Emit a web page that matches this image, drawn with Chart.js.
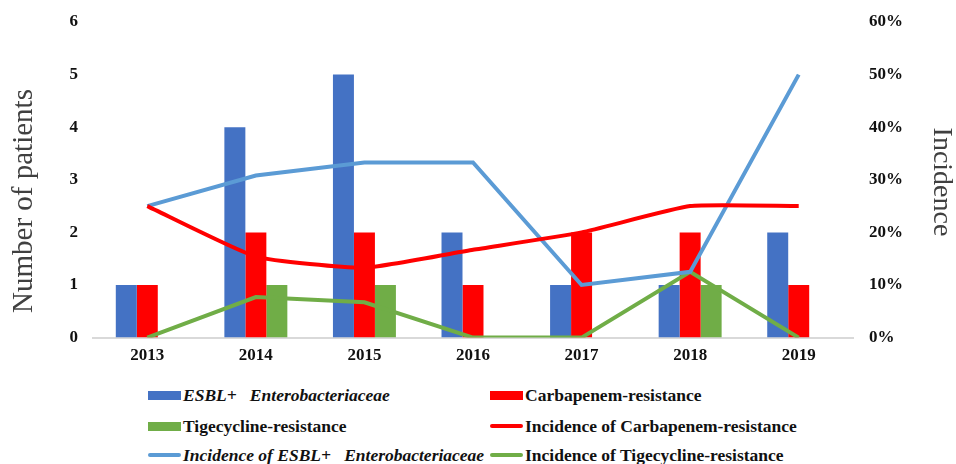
<!DOCTYPE html>
<html>
<head>
<meta charset="utf-8">
<script src="https://cdn.jsdelivr.net/npm/chart.js@4"></script>
<style>
  body { margin: 0; background: #fff; }
  #wrap { position: relative; width: 956px; height: 464px; }
  #chartBox { position: absolute; left: 0; top: 0; width: 956px; height: 366px; }
  #legend { position: absolute; left: 148px; top: 385px; font-family: "Liberation Serif", serif; font-weight: bold; font-size: 17.5px; color: #111; }
  .item { position: absolute; white-space: nowrap; display: flex; align-items: center; height: 20px; }
  .sw { display: inline-block; width: 33px; margin-right: 2px; }
</style>
</head>
<body>
<div id="wrap">
  <div id="chartBox"><canvas id="mixChart"></canvas></div>
  <div id="legend"></div>
</div>
<script>
const years = ["2013", "2014", "2015", "2016", "2017", "2018", "2019"];
// number of patients
const esblCount = [1, 4, 5, 2, 1, 1, 2];
const carbaCount = [1, 2, 2, 1, 2, 2, 1];
const tigeCount = [0, 1, 1, 0, 0, 1, 0];
// incidence (%)
const esblIncidence = [25, 30.8, 33.3, 33.3, 10, 12.5, 50];
const carbaIncidence = [25, 15.4, 13.3, 16.7, 20, 25, 25];
const tigeIncidence = [0, 7.7, 6.7, 0, 0, 12.5, 0];

const patientTicks = [0, 1, 2, 3, 4, 5, 6];
const incidenceTicks = [0, 10, 20, 30, 40, 50, 60];

const ctx = document.getElementById("mixChart").getContext("2d");
const serif = "Liberation Serif, serif";
const tickFont = { family: serif, size: 17, weight: "bold" };

// rotated axis titles placed like the original
const axisTitles = {
  id: "axisTitles",
  afterDraw(chart) {
    const c = chart.ctx;
    c.save();
    c.fillStyle = "#404040";
    c.textAlign = "center";
    c.textBaseline = "middle";
    c.font = "29px " + serif;
    c.translate(24, 201);
    c.rotate(-Math.PI / 2);
    c.fillText("Number of patients", 0, 0);
    c.restore();
    c.save();
    c.fillStyle = "#404040";
    c.textAlign = "center";
    c.textBaseline = "middle";
    c.font = "28px " + serif;
    c.translate(941, 182);
    c.rotate(Math.PI / 2);
    c.fillText("Incidence", 0, 0);
    c.restore();
  },
};

const mixChart = new Chart(ctx, {
  type: "bar",
  data: {
    labels: years,
    datasets: [
      { label: "ESBL+   Enterobacteriaceae", data: esblCount, backgroundColor: "#4472C4", yAxisID: "y", order: 1, italic: true },
      { label: "Carbapenem-resistance", data: carbaCount, backgroundColor: "#FF0000", yAxisID: "y", order: 1 },
      { label: "Tigecycline-resistance", data: tigeCount, backgroundColor: "#70AD47", yAxisID: "y", order: 1 },
      { type: "line", label: "Incidence of Carbapenem-resistance", data: carbaIncidence, borderColor: "#FF0000", borderWidth: 4, pointRadius: 0, yAxisID: "y1", order: 0, tension: 0.15 },
      { type: "line", label: "Incidence of ESBL+   Enterobacteriaceae", data: esblIncidence, borderColor: "#5B9BD5", borderWidth: 4, pointRadius: 0, yAxisID: "y1", order: 0, italic: true },
      { type: "line", label: "Incidence of Tigecycline-resistance", data: tigeIncidence, borderColor: "#70AD47", borderWidth: 4, pointRadius: 0, yAxisID: "y1", order: 0 },
    ],
  },
  options: {
    responsive: true,
    maintainAspectRatio: false,
    animation: false,
    layout: { padding: { top: 22, bottom: 0 } },
    datasets: {
      bar: { categoryPercentage: 0.58, barPercentage: 1.0 },
    },
    scales: {
      x: {
        grid: { display: false },
        border: { color: "#d9d9d9", width: 2 },
        ticks: { color: "#111", padding: 0, font: tickFont },
      },
      y: {
        position: "left",
        min: 0,
        max: 6,
        afterBuildTicks: (s) => { s.ticks = patientTicks.map((v) => ({ value: v })); },
        grid: { display: false },
        border: { display: false },
        ticks: { color: "#111", padding: 7, font: tickFont },
        afterFit: (s) => { s.width = 93; },
      },
      y1: {
        position: "right",
        min: 0,
        max: 60,
        afterBuildTicks: (s) => { s.ticks = incidenceTicks.map((v) => ({ value: v })); },
        grid: { display: false },
        border: { display: false },
        ticks: { color: "#111", padding: 8, callback: (v) => v + "%", font: tickFont },
        afterFit: (s) => { s.width = 103; },
      },
    },
    plugins: {
      legend: { display: false },
      tooltip: { enabled: false },
    },
  },
  plugins: [axisTitles],
});

// legend in two columns, three rows, like the original
const legendBox = document.getElementById("legend");
mixChart.data.datasets.forEach((ds, i) => {
  const item = document.createElement("div");
  item.className = "item";
  item.style.left = (i % 2 === 0 ? 0 : 342) + "px";
  item.style.top = [0, 31, 60][Math.floor(i / 2)] + "px";
  const sw = document.createElement("span");
  sw.className = "sw";
  const isLine = ds.type === "line";
  sw.style.height = isLine ? "4px" : "9px";
  sw.style.borderRadius = isLine ? "2px" : "0";
  sw.style.background = isLine ? ds.borderColor : ds.backgroundColor;
  const txt = document.createElement("span");
  if (ds.italic) {
    txt.innerHTML = ds.label.replace(/ /g, "&nbsp;");
    txt.style.fontStyle = "italic";
  } else {
    txt.textContent = ds.label;
  }
  item.appendChild(sw);
  item.appendChild(txt);
  legendBox.appendChild(item);
});
</script>
</body>
</html>
